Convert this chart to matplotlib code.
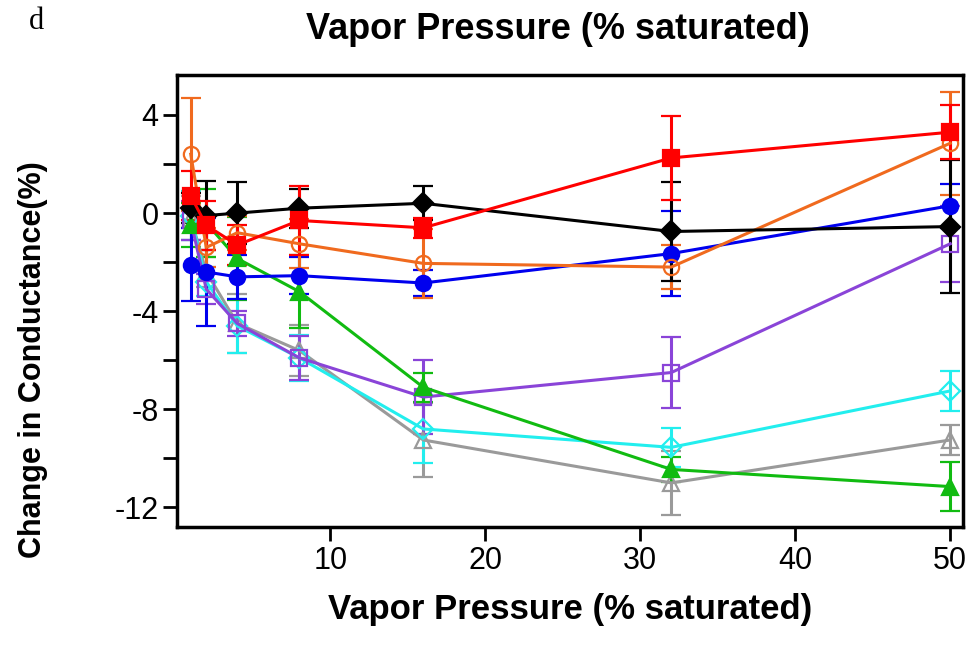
import matplotlib
matplotlib.use("Agg")
import matplotlib.pyplot as plt
from matplotlib.ticker import MultipleLocator

plt.rcParams['font.family'] = ['Liberation Sans', 'DejaVu Sans']
plt.rcParams['axes.unicode_minus'] = False

# vapor pressure (% saturated)
vp = [1, 2, 4, 8, 16, 32, 50]

# change in conductance (%) per series, with error bars
red_y = [0.7, -0.5, -1.3, -0.3, -0.6, 2.25, 3.3]
red_e = [1.0, 1.0, 0.8, 1.4, 0.4, 1.7, 1.1]
orange_y = [2.4, -1.4, -0.8, -1.25, -2.05, -2.2, 2.85]
orange_e = [2.3, 0.8, 0.7, 1.0, 1.4, 0.9, 2.1]
black_y = [0.2, -0.1, 0.0, 0.2, 0.4, -0.75, -0.55]
black_e = [0.6, 1.4, 1.25, 0.8, 0.7, 2.0, 2.7]
blue_y = [-2.1, -2.4, -2.6, -2.55, -2.85, -1.65, 0.3]
blue_e = [1.5, 2.2, 0.9, 0.75, 0.55, 1.75, 0.9]
purple_y = [-0.3, -3.1, -4.5, -5.9, -7.5, -6.5, -1.25]
purple_e = [0.8, 0.6, 0.5, 0.9, 1.5, 1.45, 1.55]
cyan_y = [-0.1, -2.8, -4.6, -5.9, -8.8, -9.55, -7.25]
cyan_e = [1.0, 0.6, 1.1, 0.95, 1.4, 0.8, 0.8]
gray_y = [-0.2, -2.4, -4.5, -5.6, -9.25, -11.0, -9.25]
gray_e = [0.9, 0.6, 1.2, 1.05, 1.5, 1.3, 0.6]
green_y = [-0.5, -0.4, -1.85, -3.2, -7.1, -10.45, -11.15]
green_e = [0.9, 1.4, 1.7, 1.5, 0.6, 0.5, 1.0]

series = [
    (gray_y, gray_e, '#9a9a9a', '^', 'none'),
    (cyan_y, cyan_e, '#22eeee', 'D', 'none'),
    (purple_y, purple_e, '#8a44d8', 's', 'none'),
    (green_y, green_e, '#11bb11', '^', 'full'),
    (blue_y, blue_e, '#0000ee', 'o', 'full'),
    (orange_y, orange_e, '#f06a1e', 'o', 'none'),
    (black_y, black_e, '#000000', 'D', 'full'),
    (red_y, red_e, '#ff0000', 's', 'full'),
]

fig = plt.figure(figsize=(9.74, 6.58), dpi=100)
ax = fig.add_axes([0.182, 0.199, 0.807, 0.687])

for y, e, c, m, fill in series:
    ms = 10 if m == 'D' else 11
    ax.errorbar(vp, y, yerr=e, color=c, marker=m, markersize=ms,
                markerfacecolor=(c if fill == 'full' else 'none'),
                markeredgecolor=c, markeredgewidth=1.6,
                linewidth=2.2, elinewidth=2.2, capsize=7, capthick=2.2)

ax.set_xlim(0.13, 50.84)
ax.set_ylim(-12.8, 5.63)
ax.xaxis.set_major_locator(MultipleLocator(10))
ax.yaxis.set_major_locator(MultipleLocator(4))
ax.yaxis.set_minor_locator(MultipleLocator(2))
ax.tick_params(axis='both', which='both', direction='out', width=2,
               length=10, labelsize=22)
for sp in ax.spines.values():
    sp.set_linewidth(2.5)

ax.set_xlabel('Vapor Pressure (% saturated)', fontsize=25, fontweight='bold')
ax.set_ylabel('Change in Conductance(%)', fontsize=22, fontweight='bold')
ax.xaxis.set_label_coords(0.5, -0.145)
ax.yaxis.set_label_coords(-0.165, 0.37)
fig.text(0.573, 0.955, 'Vapor Pressure (% saturated)', fontsize=26,
         fontweight='bold', ha='center', va='center')
fig.text(0.037, 0.968, 'd', fontsize=22, family='Liberation Serif',
         ha='center', va='center')

fig.savefig('out.png', dpi=100)
